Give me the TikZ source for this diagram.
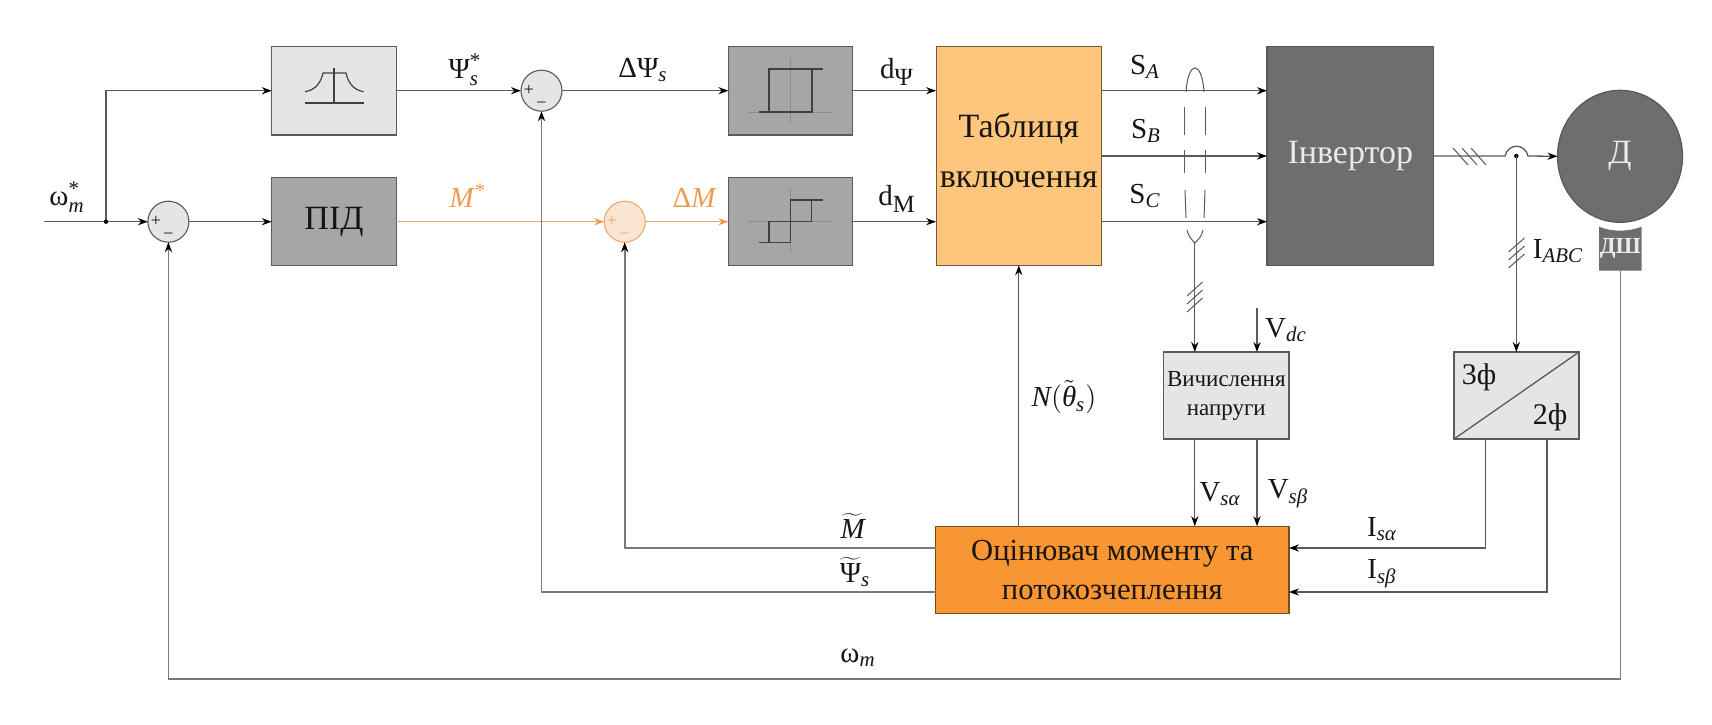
\documentclass[tikz,border=0pt]{standalone}
\usepackage{fontspec}
\setmainfont{Liberation Serif}
\usetikzlibrary{arrows.meta,shapes.geometric}
\definecolor{ln}{HTML}{5A5A5A}
\definecolor{lg}{HTML}{7A7A7A}
\definecolor{orl}{HTML}{F0A868}
\definecolor{ort}{HTML}{EC9C50}
\definecolor{boxl}{HTML}{E5E5E5}
\definecolor{boxm}{HTML}{A6A6A6}
\definecolor{boxd}{HTML}{6E6E6E}
\definecolor{tabc}{HTML}{FEC67C}
\definecolor{estc}{HTML}{F79632}
\definecolor{txt}{HTML}{1A1510}
\newcommand\scr[1]{\hbox{\scalebox{.72}{#1}}}
\newcommand\scb[1]{\hbox{\scalebox{.85}{#1}}}
\newcommand\sit[1]{\scr{\itshape #1}}
\tikzset{
  bx/.style 2 args={draw=ln,line width=.55pt,inner sep=0pt,outer sep=0pt,align=center,text=txt,minimum width=#1*0.5pt,minimum height=#2*0.5pt},
  sumc/.style={circle,draw=ln,fill=boxl,line width=.55pt,inner sep=0pt,outer sep=0pt,minimum size=20.5pt},
  conn/.style={draw=ln,line width=.65pt},
  arr/.style={conn,-{Stealth[length=5pt,width=3.6pt,color=black]}},
  outer/.style={draw=lg,line width=.8pt},
  outerarr/.style={outer,-{Stealth[length=5pt,width=3.6pt,color=black]}},
  lab/.style={inner sep=0pt,text=txt,font=\fontsize{14.5}{16}\selectfont},
  sgn/.style={inner sep=0pt,text=txt,font=\fontsize{9}{9}\selectfont},
  icon/.style={draw=black!75,line width=.6pt},
  axisl/.style={draw=black!45,line width=.35pt},
}
\begin{document}
\begin{tikzpicture}[x=0.5pt,y=-0.5pt]
\useasboundingbox (0,0) rectangle (1712,724);
\fill[white] (0,0) rectangle (1712,724);
% blocks
\node[bx={124.5}{88.5},fill=boxl] (filt) at (334,90.7) {};
\node[bx={124.5}{88},fill=boxm,font=\fontsize{17}{20}\selectfont] (pid) at (334,221.7) {ПІД};
\node[bx={124}{88.5},fill=boxm] (hyA) at (790.4,90.7) {};
\node[bx={124}{88},fill=boxm] (hyB) at (790.4,221.7) {};
\node[bx={165.5}{218.5},fill=tabc,draw=black!55!tabc,font=\fontsize{17}{25}\selectfont] (tab) at (1018.8,156) {\raisebox{6pt}{Таблиця}\\\raisebox{6pt}{включення}};
\node[bx={166.7}{218.5},fill=boxd,draw=boxd!80!black,text=white!92!black,font=\fontsize{17}{20}\selectfont] (inv) at (1350.3,156) {\raisebox{2pt}{Інвертор}};
\node[ellipse,draw=black!65,fill=boxd,line width=.6pt,inner sep=0pt,outer sep=0pt,minimum width=62.5pt,minimum height=66pt,text=white!92!black,font=\fontsize{17}{20}\selectfont] (mot) at (1620,156.3) {Д};
\fill[boxd] (1599,226.7) .. controls (1612,232) and (1628,232) .. (1641.7,226.7) -- (1641.7,270.7) -- (1599,270.7) -- cycle;
\node[inner sep=0pt,outer sep=0pt,minimum width=21.35pt,minimum height=22pt,text=white!92!black,font=\fontsize{11.5}{14}\bfseries\selectfont] (dsh) at (1620.3,248.7) {\raisebox{-2pt}{ДШ}};
\node[bx={125.4}{87},fill=boxl,font=\fontsize{11.5}{14.5}\selectfont] (vcalc) at (1226.3,395.5) {Вичислення\\напруги};
\node[bx={125}{87},fill=boxl] (conv) at (1516.5,395.5) {};
\node[bx={353.4}{87.7},fill=estc,draw=black!50!estc,font=\fontsize{15.3}{19.5}\selectfont] (est) at (1112.3,570) {Оцінювач моменту та\\потокозчеплення};
\draw[conn] (conv.south west) -- (conv.north east);
\node[lab,font=\fontsize{15}{17}\selectfont] (t3f) at (1479,377) {3ф};
\node[lab,font=\fontsize{15}{17}\selectfont] (t2f) at (1550,417) {2ф};
% summing junctions
\node[sumc] (s1) at (168.4,221.7) {};
\node[sumc] (s2) at (541.5,90.7) {};
\node[sumc,fill=orl!30!white,draw=orl] (s3) at (624.7,221.7) {};
\node[sgn] (s1p) at (156,221.7) {+};
\node[sgn] (s1m) at (168.4,236) {\textminus};
\node[sgn] (s2p) at (529,90.7) {+};
\node[sgn] (s2m) at (541.5,105) {\textminus};
\node[sgn,text=orl] (s3p) at (612,221.7) {+};
\node[sgn,text=orl] (s3m) at (624.7,236) {\textminus};
% helper coordinates
\coordinate (win) at (44,221.7);
\coordinate (jw) at (106,221.7);
\coordinate (jtop) at (106,90.7);
\coordinate (wb) at (168.4,679);
\coordinate (wbR) at (1620.3,679);
\coordinate (psiL) at (541.5,592);
\coordinate (mL) at (624.7,548);
\coordinate (bumpL) at (1505,156);
\coordinate (bumpR) at (1528,156);
\coordinate (jI) at (1516.3,156);
\coordinate (bund) at (1194.8,243);
\coordinate (vd) at (1257,308);
\coordinate (isa) at (1485.6,439);
\coordinate (isb) at (1547,439);
% connectors
\draw[conn] (win) -- (jw);
\draw[arr] (jw) -- (s1.west);
\draw[arr] (jw) -- (jtop) -- (filt.west);
\fill[black] (jw) circle (1.1pt);
\draw[arr] (s1.east) -- (pid.west);
\draw[arr] (filt.east) -- (s2.west);
\draw[arr] (s2.east) -- (hyA.west);
\draw[draw=orl,line width=.65pt,-{Stealth[length=5pt,width=3.6pt,color=ort]}] (pid.east) -- (s3.west);
\draw[draw=orl,line width=.65pt,-{Stealth[length=5pt,width=3.6pt,color=ort]}] (s3.east) -- (hyB.west);
\draw[arr] (hyA.east) -- (hyA.east -| tab.west);
\draw[arr] (hyB.east) -- (hyB.east -| tab.west);
\draw[arr] (tab.east |- hyA.east) -- (inv.west |- hyA.east);
\draw[arr] (tab.east) -- (inv.west);
\draw[arr] (tab.east |- hyB.east) -- (inv.west |- hyB.east);
\draw[arr] (inv.east) -- (bumpL) .. controls (1508,143) and (1525,143) .. (bumpR) -- (mot.west);
\fill[black] (jI) circle (1.1pt);
\draw[arr] (jI) -- (jI |- conv.north);
\draw[arr] (bund) -- (bund |- vcalc.north);
\draw[arr] (vd) -- (vd |- vcalc.north);
\draw[arr] (bund |- vcalc.south) -- (bund |- est.north);
\draw[arr] (vd |- vcalc.south) -- (vd |- est.north);
\draw[arr] (isa |- conv.south) -- (isa |- 0,548) -- (est.east |- 0,548);
\draw[arr] (isb |- conv.south) -- (isb |- 0,592) -- (est.east |- 0,592);
\draw[arr] (est.north -| tab.south) -- (tab.south);
\draw[outerarr] (est.west |- mL) -- (mL) -- (s3.south);
\draw[outerarr] (est.west |- psiL) -- (psiL) -- (s2.south);
\draw[outerarr] (dsh.south) -- (wbR) -- (wb) -- (s1.south);
% filter icon
\draw[icon] (334,68) -- (334,103);
\draw[icon] (305,103) -- (363.6,103);
\draw[icon] (305,91.7) .. controls (316,90) and (321,82) .. (323,73) -- (346,73) .. controls (348,82) and (353,90) .. (363.6,91.7);
% hysteresis icons
\draw[axisl] (790.7,58) -- (790.7,123);
\draw[axisl] (748,112) -- (833,112);
\draw[icon] (759,112) -- (812,112) -- (812,69);
\draw[icon] (823,69) -- (769,69) -- (769,112);
\draw[axisl] (790.7,188) -- (790.7,253);
\draw[axisl] (748,221.7) -- (832,221.7);
\draw[icon] (759,242.7) -- (790.7,242.7) -- (790.7,200) -- (822.7,200);
\draw[icon] (769,242.7) -- (769,221.7) -- (811.7,221.7) -- (811.7,200);
% bundle
\draw[conn,line width=.5pt] (1186,92) .. controls (1187,76) and (1191,68) .. (1195,68) .. controls (1199,68) and (1203,76) .. (1204,92);
\draw[conn,line width=.5pt] (1184.5,107) -- (1184.5,135) (1205,107) -- (1205,135);
\draw[conn,line width=.5pt] (1184.5,150) -- (1184.5,173) (1205,150) -- (1205,173);
\draw[conn,line width=.5pt] (1185,190) -- (1186,218) (1205,190) -- (1204,218);
\draw[conn,line width=.5pt] (1187,230) .. controls (1188,236) and (1192,240) .. (bund) .. controls (1198,240) and (1202,236) .. (1203,230);
% slashes
\foreach \yy in {290,298,306}
  \draw[conn,line width=.5pt] (1187,\yy+6) -- (1202.5,\yy-8);
\foreach \yy in {246,254,262}
  \draw[conn,line width=.5pt] (1508.5,\yy+6) -- (1524.5,\yy-8);
\foreach \xx in {1453,1462,1471}
  \draw[conn,line width=.5pt] (\xx,148) -- (\xx+15,165);
% labels
\node[lab] (lw) at (67,197) {$\hbox{ω}_{\sit{m}}^{\scr{*}}$};
\node[lab] (lps) at (465,70) {$\hbox{Ψ}_{\sit{s}}^{\scr{*}}$};
\node[lab,text=ort] (lm) at (467,196) {\itshape M\raisebox{.35em}{\scalebox{.72}{*}}};
\node[lab] (ldps) at (643,70) {ΔΨ$_{\sit{s}}$};
\node[lab,text=ort] (ldm) at (694,198) {Δ\itshape M};
\node[lab] (ldp) at (897,72) {d$_{\scb{Ψ}}$};
\node[lab] (ldmm) at (897,199) {d$_{\scb{M}}$};
\node[lab] (lsa) at (1145,67) {S$_{\sit{A}}$};
\node[lab] (lsb) at (1146,131) {S$_{\sit{B}}$};
\node[lab] (lsc) at (1145,196) {S$_{\sit{C}}$};
\node[lab] (lia) at (1558,251) {I$_{\sit{ABC}}$};
\node[lab] (lvdc) at (1286,330) {V$_{\sit{dc}}$};
\node[lab] (lva) at (1220,494) {V$_{\sit{s}\scr{\itshape α}}$};
\node[lab] (lvb) at (1288,494) {V$_{\sit{s}\scr{\itshape β}}$};
\node[lab] (lis) at (1382,529) {I$_{\sit{s}\scr{\itshape α}}$};
\node[lab] (lib) at (1382,574) {I$_{\sit{s}\scr{\itshape β}}$};
\node[lab] (ln) at (1064,397) {$\hbox{\itshape N}(\tilde{\hbox{\itshape θ}}_{\sit{s}})$};
\node[lab] (lmt) at (852.6,526) {$\widetilde{\hbox{\itshape M}}$};
\node[lab] (lpt) at (855,572) {$\widetilde{\hbox{Ψ}}_{\sit{s}}$};
\node[lab] (lwm) at (858,658) {ω$_{\sit{m}}$};
\end{tikzpicture}
\end{document}
